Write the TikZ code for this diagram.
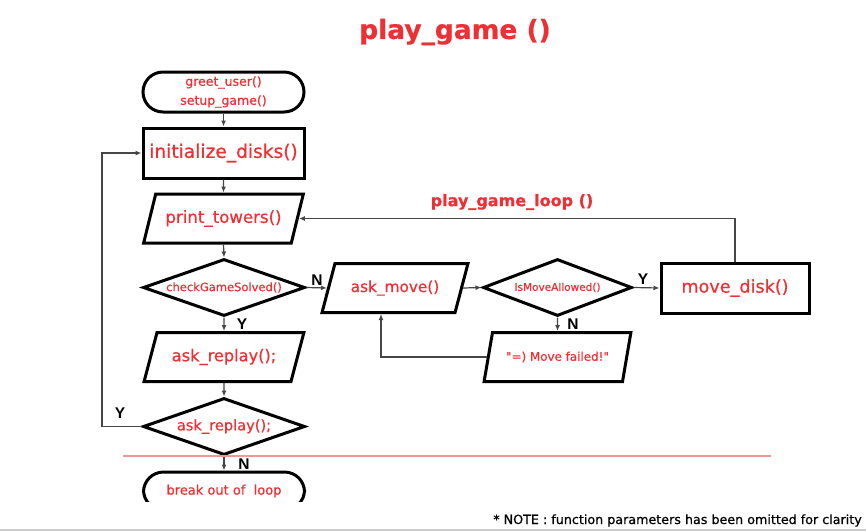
\documentclass[tikz,border=0pt]{standalone}
\usepackage{fontspec}
\setmainfont[FakeBold=0.6]{DejaVu Sans}
\newfontfamily\lblfont{Liberation Sans}
\usetikzlibrary{shapes.geometric,arrows.meta}
\definecolor{txtred}{RGB}{238,48,52}
\definecolor{conncol}{RGB}{70,70,70}
\definecolor{redline}{RGB}{242,150,150}
\newcommand{\fs}[1]{\fontsize{#1}{#1}\selectfont}
\tikzset{
  shp/.style={draw=black, line width=3pt, text=txtred, inner sep=0pt, align=center},
  procbox/.style={shp, rectangle, minimum width=#1, minimum height=50pt},
  iobox/.style={shp, trapezium, trapezium left angle=58, trapezium right angle=122,
     trapezium stretches=true, minimum width=#1, minimum height=49pt},
  decbox/.style={shp, diamond, minimum width=#1, minimum height=57pt},
  termbox/.style={shp, rectangle, rounded corners=20pt, minimum width=161pt, minimum height=40pt},
  conn/.style={draw=conncol, line width=1.2pt, -{Latex[length=6pt,width=5pt]}},
  yn/.style={font=\lblfont\bfseries\fs{15.5}, text=black, inner sep=0pt},
}
\begin{document}
\begin{tikzpicture}[x=1pt,y=-1pt]
\useasboundingbox (0,0) rectangle (866,531);
\fill[white] (0,0) rectangle (866,531);

\node[font=\bfseries\fs{26.5}, text=txtred] (title) at (455,32) {play\_game ()};

\node[termbox, font=\fontsize{12.5}{19}\selectfont] (start) at (223.5,92) {greet\_user()\\setup\_game()};
\node[procbox=161pt, font=\fs{18.6}] (init) at (223.5,153) {initialize\_disks()};
\node[iobox=160pt, font=\fs{16.6}] (print) at (223.5,218.5) {print\_towers()};
\node[decbox=162pt, aspect=2.84, font=\fs{11.5}] (check) at (224,287.5) {checkGameSolved()};
\node[iobox=160pt, font=\fs{16.2}] (replay1) at (224,357) {ask\_replay();};
\node[decbox=162pt, aspect=2.84, font=\fs{14.6}] (replay2) at (224,426.5) {ask\_replay();};
\begin{scope}
  \clip (100,440) rectangle (340,501);
  \node[termbox, minimum height=38pt, font=\fs{13}] (brk) at (224,491) {break out of~ loop};
\end{scope}

\node[iobox=146pt, font=\fs{15.3}] (askmove) at (395,288) {ask\_move()};
\node[decbox=149pt, aspect=2.61, font=\fs{10.5}] (allowed) at (557.5,287.5) {IsMoveAllowed()};
\node[procbox=148pt, font=\fs{17.6}] (movedisk) at (735,288) {move\_disk()};
\node[iobox=147pt, font=\fs{11.9}] (failed) at (557.5,357) {\textquotedbl=) Move failed!\textquotedbl};

\node[font=\bfseries\fs{16}, text=txtred] (looplbl) at (512,202) {play\_game\_loop ()};

\coordinate (yloop) at (102,0);
\coordinate (fbk) at (381,0);

\draw[conn] (start.south) -- (init.north);
\draw[conn] (init.south) -- (print.north);
\draw[conn] (print.south) -- (check.north);
\draw[conn] (check.south) -- (replay1.north);
\draw[conn] (replay1.south) -- (replay2.north);
\draw[conn] (replay2.south) -- (brk.north);
\draw[conn] (replay2.west) -- (yloop |- replay2.west) |- (init.west);
\draw[conn] (check.east) -- (askmove.west);
\draw[conn] (askmove.east) -- (allowed.west);
\draw[conn] (allowed.east) -- (movedisk.west);
\draw[conn] (allowed.south) -- (failed.north);
\draw[conn] (failed.west) -| (fbk |- askmove.south);
\draw[conn] (movedisk.north) |- (print.east);

\node[yn] (ly1) at (242,324) {Y};
\node[yn] (ln1) at (244,464) {N};
\node[yn] (ly2) at (120,413) {Y};
\node[yn] (ln2) at (317,280) {N};
\node[yn] (ly3) at (643,279) {Y};
\node[yn] (ln3) at (573,324) {N};

\draw[redline, line width=1.4pt] (123,456) -- (771,456);

\node[anchor=base east, font=\fs{12.7}, text=black, inner sep=0pt] (note) at (862,524)
  {* NOTE : function parameters has been omitted for clarity};
\draw[black!20, line width=1.5pt] (0,530) -- (866,530);
\end{tikzpicture}
\end{document}
